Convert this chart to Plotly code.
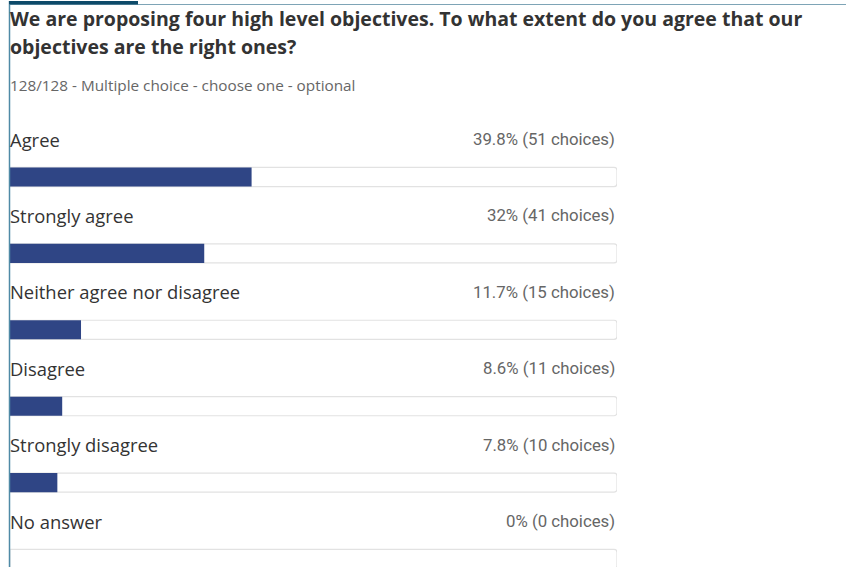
import plotly.graph_objects as go

# Survey question results
categories = ["Agree", "Strongly agree", "Neither agree nor disagree",
              "Disagree", "Strongly disagree", "No answer"]
percents = [39.8, 32, 11.7, 8.6, 7.8, 0]
counts = [51, 41, 15, 11, 10, 0]

title_lines = ["We are proposing four high level objectives. To what extent do you agree that our",
               "objectives are the right ones?"]
subtitle = "128/128 - Multiple choice - choose one - optional"

W, H = 846, 567
BAR_COLOR = "#2f4585"
LABEL_FONT = "Open Sans"
VALUE_FONT = "Roboto"

def py(p):
    """pixel row -> paper y"""
    return 1 - p / H

fig = go.Figure()

# background tracks (full 100%)
fig.add_trace(go.Bar(
    y=categories, x=[100] * len(categories), orientation="h",
    marker=dict(color="white", line=dict(color="#e2e2e2", width=1.2)),
    width=0.25, hoverinfo="skip", showlegend=False,
))
# value bars
fig.add_trace(go.Bar(
    y=categories, x=percents, orientation="h",
    marker=dict(color=BAR_COLOR, line=dict(width=0)),
    width=0.25, hoverinfo="skip", showlegend=False,
))

annotations = []
for cat, p, c in zip(categories, percents, counts):
    annotations.append(dict(
        x=0, y=cat, xref="x", yref="y", xanchor="left", yanchor="middle",
        yshift=38, xshift=-2, text=cat, showarrow=False,
        font=dict(family=LABEL_FONT, size=18.4, color="#333333"),
    ))
    annotations.append(dict(
        x=100, y=cat, xref="x", yref="y", xanchor="right", yanchor="middle",
        yshift=38, xshift=0, text=f"{p:g}% ({c} choices)", showarrow=False,
        font=dict(family=VALUE_FONT, size=16.8, color="#666666"),
    ))

for i, line in enumerate(title_lines):
    annotations.append(dict(
        x=10 / W, y=py(18 + 28 * i), xref="paper", yref="paper", xshift=-2,
        xanchor="left", yanchor="middle", text=f"<b>{line}</b>", showarrow=False,
        font=dict(family=LABEL_FONT, size=19.5, color="#333333"),
    ))
annotations.append(dict(
    x=10 / W, y=py(85), xref="paper", yref="paper", xshift=-2,
    xanchor="left", yanchor="middle", text=subtitle, showarrow=False,
    font=dict(family=LABEL_FONT, size=15.3, color="#666666"),
))

shapes = [
    # left border
    dict(type="line", xref="paper", yref="paper", x0=9.5 / W, x1=9.5 / W,
         y0=py(1), y1=0, line=dict(color="#4f8aa6", width=1.5)),
    # top rule
    dict(type="line", xref="paper", yref="paper", x0=9 / W, x1=1,
         y0=py(4.5), y1=py(4.5), line=dict(color="#7ea4b6", width=1)),
    # top accent
    dict(type="rect", xref="paper", yref="paper", x0=9 / W, x1=138 / W,
         y0=py(4.5), y1=py(1), fillcolor="#0d4a69", line=dict(width=0)),
]

fig.update_layout(
    width=W, height=H,
    margin=dict(l=0, r=0, t=0, b=0),
    paper_bgcolor="white", plot_bgcolor="white",
    barmode="overlay", barcornerradius=3,
    xaxis=dict(domain=[10 / W, 617 / W], range=[0, 100], visible=False, fixedrange=True),
    yaxis=dict(type="category", categoryorder="array", categoryarray=categories,
               range=[(H - 177) / 76.4, -177 / 76.4], visible=False, fixedrange=True),
    annotations=annotations,
    shapes=shapes,
)

fig.write_html("out.html", config={"displayModeBar": False})
